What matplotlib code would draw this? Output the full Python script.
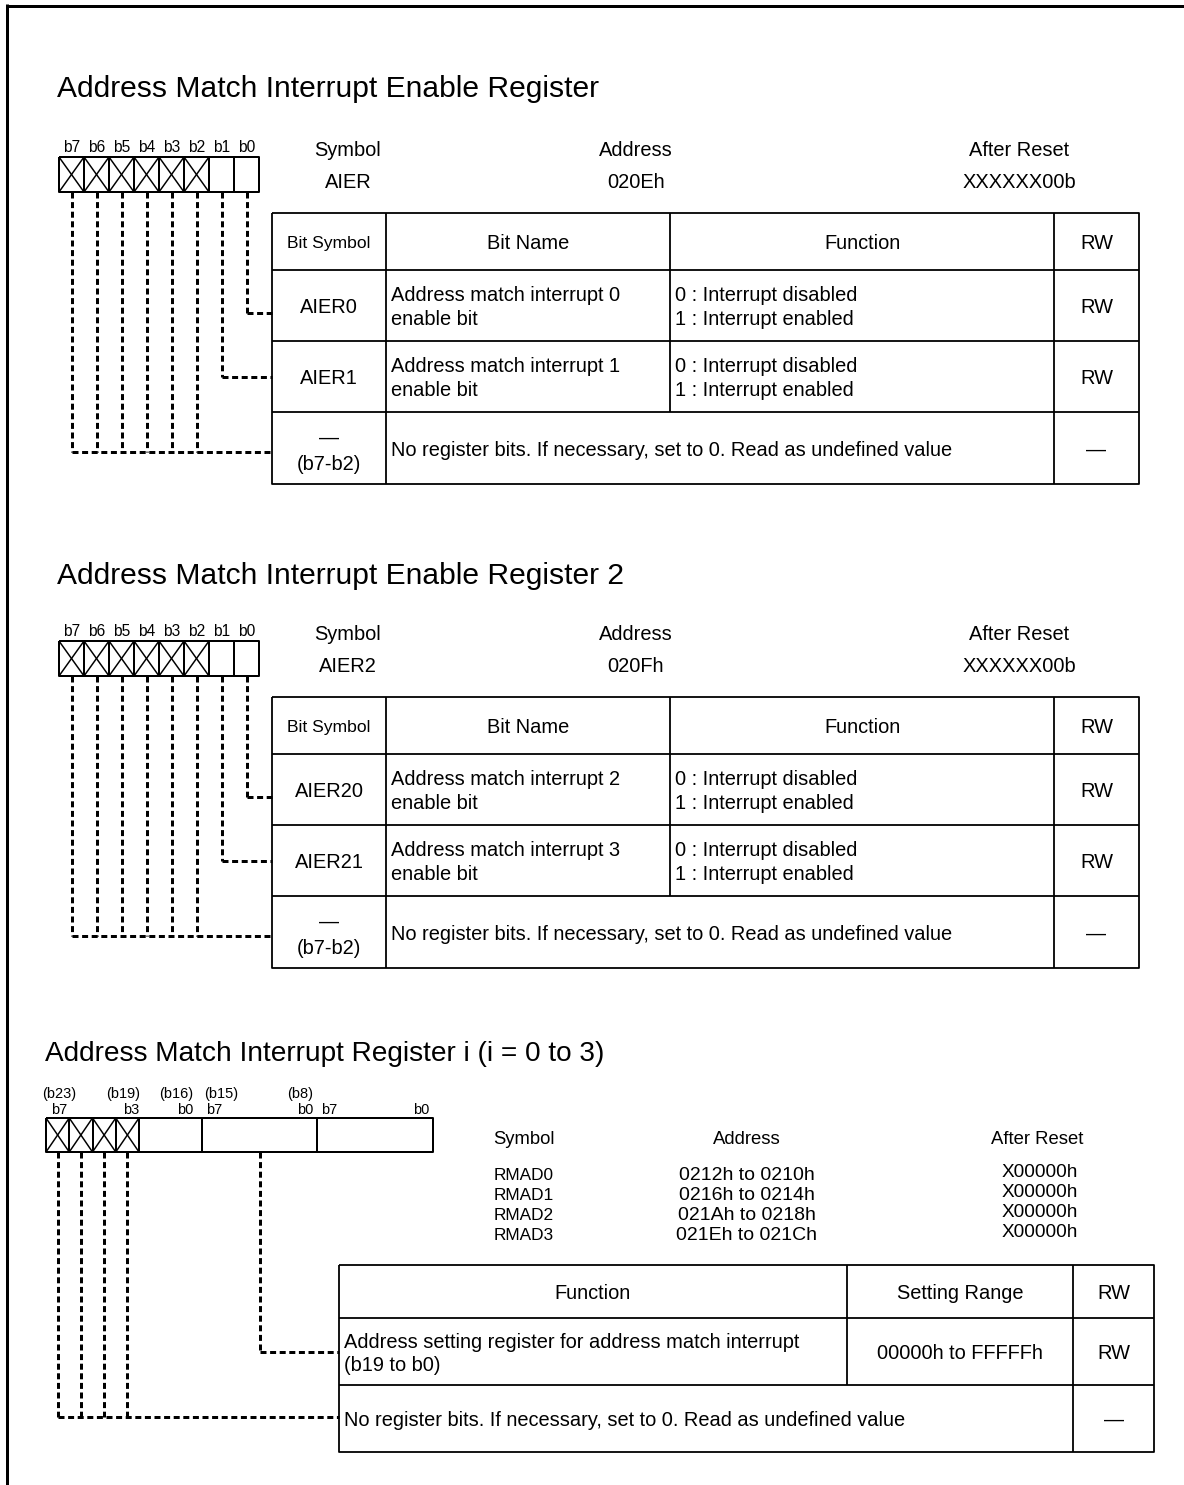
import matplotlib
matplotlib.use('Agg')
import matplotlib.pyplot as plt

FONT = ['Liberation Sans', 'DejaVu Sans']

# ---------------- data ----------------
reg_titles = ["Address Match Interrupt Enable Register",
              "Address Match Interrupt Enable Register 2"]
reg_bits = ["b7", "b6", "b5", "b4", "b3", "b2", "b1", "b0"]
reg_reserved = [True, True, True, True, True, True, False, False]
info_headers = ["Symbol", "Address", "After Reset"]
reg_symbols = ["AIER", "AIER2"]
reg_addresses = ["020Eh", "020Fh"]
reg_resets = ["XXXXXX00b", "XXXXXX00b"]
hdr_labels = ["Bit Symbol", "Bit Name", "Function", "RW"]
bit_symbols = [["AIER0", "AIER1"], ["AIER20", "AIER21"]]
bit_names = [[("Address match interrupt 0", "enable bit"),
              ("Address match interrupt 1", "enable bit")],
             [("Address match interrupt 2", "enable bit"),
              ("Address match interrupt 3", "enable bit")]]
bit_funcs = ("0 : Interrupt disabled", "1 : Interrupt enabled")
bit_rw = "RW"
reserved_symbol = ("\u2014", "(b7-b2)")
reserved_text = "No register bits. If necessary, set to 0. Read as undefined value"
reserved_rw = "\u2014"

rmad_title = "Address Match Interrupt Register i (i = 0 to 3)"
rmad_hi_labels = ["(b23)", "(b19)", "(b16)", "(b15)", "(b8)"]
rmad_lo_labels = ["b7", "b3", "b0", "b7", "b0", "b7", "b0"]
rmad_symbols = ["RMAD0", "RMAD1", "RMAD2", "RMAD3"]
rmad_addresses = ["0212h to 0210h", "0216h to 0214h",
                  "021Ah to 0218h", "021Eh to 021Ch"]
rmad_resets = ["X00000h", "X00000h", "X00000h", "X00000h"]
rmad_headers = ["Function", "Setting Range", "RW"]
rmad_func = ("Address setting register for address match interrupt", "(b19 to b0)")
rmad_range = "00000h to FFFFFh"
rmad_rw = "RW"

# ---------------- drawing helpers ----------------
W, H = 1184, 1485
fig = plt.figure(figsize=(W / 100, H / 100), dpi=100)
ax = fig.add_axes([0, 0, 1, 1])
ax.set_xlim(0, W)
ax.set_ylim(H, 0)
ax.axis('off')

PT = 0.72  # points per pixel


def line(xs, ys, lw=2.0, dashed=False):
    kw = dict(color='black', lw=lw * PT, solid_capstyle='butt')
    if dashed:
        kw['dashes'] = (2.0, 1.2)
        kw['dash_capstyle'] = 'butt'
    ax.plot(xs, ys, **kw)


def txt(x, y, s, size=20, ha='center', family=FONT):
    ax.text(x, y + 0.1 * size, s, fontsize=size * PT, ha=ha, va='center',
            family=family, color='black')


def rect(x0, y0, x1, y1, lw=2.0):
    line([x0, x1, x1, x0, x0], [y0, y0, y1, y1, y0], lw=lw)


def cross(x0, y0, x1, y1):
    line([x0, x1], [y0, y1], lw=1.5)
    line([x0, x1], [y1, y0], lw=1.5)


# page border (top and left)
line([6, W], [5.5, 5.5], lw=3)
line([6.5, 6.5], [4, H], lw=3)

# ---------------- enable registers ----------------
title_ys = [86, 573]
for k in range(2):
    dy = 484 * k
    txt(57, title_ys[k], reg_titles[k], size=30, ha='left')
    # bit box
    bx0, cw, by0, by1 = 59, 25, 157 + dy, 192 + dy
    for i, (b, res) in enumerate(zip(reg_bits, reg_reserved)):
        cx0 = bx0 + i * cw
        txt(cx0 + cw / 2, 146 + dy, b, size=15.5)
        if res:
            cross(cx0, by0, cx0 + cw, by1)
    rect(bx0, by0, bx0 + cw * 8, by1)
    for i in range(1, 8):
        line([bx0 + i * cw] * 2, [by0, by1])

    # symbol / address / reset
    for x, h, v in zip([348, 636, 1019], info_headers,
                       [reg_symbols[k], reg_addresses[k], reg_resets[k]]):
        txt(x, 149 + dy, h)
        txt(x, 180 + dy, v)

    # table
    cols = [272, 386, 670, 1054, 1139]
    rows = [213 + dy, 270 + dy, 341 + dy, 412 + dy, 484 + dy]
    rect(cols[0], rows[0], cols[-1], rows[-1], lw=1.8)
    for r in rows[1:-1]:
        line([cols[0], cols[-1]], [r, r], lw=1.8)
    for c in cols[1:-1]:
        line([c, c], [rows[0], rows[-2]], lw=1.8)
    line([cols[1]] * 2, [rows[-2], rows[-1]], lw=1.8)
    line([cols[3]] * 2, [rows[-2], rows[-1]], lw=1.8)

    hy = (rows[0] + rows[1]) / 2
    txt((cols[0] + cols[1]) / 2, hy, hdr_labels[0], size=17.5)
    for j in range(1, 4):
        txt((cols[j] + cols[j + 1]) / 2, hy, hdr_labels[j])

    for r in range(2):
        cy = (rows[r + 1] + rows[r + 2]) / 2
        txt((cols[0] + cols[1]) / 2, cy, bit_symbols[k][r])
        txt(391, cy - 12, bit_names[k][r][0], ha='left')
        txt(391, cy + 12, bit_names[k][r][1], ha='left')
        txt(675, cy - 12, bit_funcs[0], ha='left')
        txt(675, cy + 12, bit_funcs[1], ha='left')
        txt((cols[3] + cols[4]) / 2, cy, bit_rw)
    cy = (rows[3] + rows[4]) / 2
    txt((cols[0] + cols[1]) / 2, cy - 12, reserved_symbol[0])
    txt((cols[0] + cols[1]) / 2, cy + 14, reserved_symbol[1])
    txt(391, cy, reserved_text, ha='left')
    txt((cols[3] + cols[4]) / 2, cy, reserved_rw)

    # dashed connectors
    centers = [bx0 + cw / 2 + i * cw for i in range(8)]
    turn = {7: 313 + dy, 6: 377 + dy}
    low = 452 + dy
    for i, c in enumerate(centers):
        yend = turn.get(i, low)
        line([c, c], [by1, yend], lw=3, dashed=True)
    line([centers[7], cols[0]], [313 + dy] * 2, lw=3, dashed=True)
    line([centers[6], cols[0]], [377 + dy] * 2, lw=3, dashed=True)
    line([centers[0], cols[0]], [low] * 2, lw=3, dashed=True)

# ---------------- address match interrupt register ----------------
txt(45, 1051, rmad_title, size=28, ha='left')
hi_x = [59, 123.5, 176, 221.5, 300.5]
for x, s in zip(hi_x, rmad_hi_labels):
    txt(x, 1093, s, size=14.5)
lo_pos = [(59, 'center'), (139, 'right'), (193, 'right'), (206, 'left'),
          (313, 'right'), (321, 'left'), (429, 'right')]
for (x, ha), s in zip(lo_pos, rmad_lo_labels):
    txt(x, 1109, s, size=14.5, ha=ha)

rx0, rx1, ry0, ry1 = 46, 433, 1118, 1152
ccw = (139 - 46) / 4
for i in range(4):
    cross(rx0 + i * ccw, ry0, rx0 + (i + 1) * ccw, ry1)
    line([rx0 + (i + 1) * ccw] * 2, [ry0, ry1])
rect(rx0, ry0, rx1, ry1)
line([202, 202], [ry0, ry1])
line([317, 317], [ry0, ry1])

for x, h in zip([524, 747, 1037], info_headers):
    txt(x, 1138, h, size=18.5)
sym_ys = [1174, 1194, 1214, 1234]
for y, s, a, r in zip(sym_ys, rmad_symbols, rmad_addresses, rmad_resets):
    txt(494, y, s, size=17.2, ha='left')
    txt(747, y, a, size=19.5)
    txt(1040, y - 3, r, size=19)

cols3 = [339, 847, 1073, 1154]
rows3 = [1265, 1318, 1385, 1452]
rect(cols3[0], rows3[0], cols3[-1], rows3[-1], lw=1.8)
line([cols3[0], cols3[-1]], [rows3[1]] * 2, lw=1.8)
line([cols3[0], cols3[-1]], [rows3[2]] * 2, lw=1.8)
line([cols3[1]] * 2, [rows3[0], rows3[2]], lw=1.8)
line([cols3[2]] * 2, [rows3[0], rows3[3]], lw=1.8)
hy = (rows3[0] + rows3[1]) / 2
for j in range(3):
    txt((cols3[j] + cols3[j + 1]) / 2, hy, rmad_headers[j])
cy = (rows3[1] + rows3[2]) / 2
txt(344, cy - 11, rmad_func[0], ha='left')
txt(344, cy + 12, rmad_func[1], ha='left')
txt((cols3[1] + cols3[2]) / 2, cy, rmad_range)
txt((cols3[2] + cols3[3]) / 2, cy, rmad_rw)
cy2 = (rows3[2] + rows3[3]) / 2
txt(344, cy2, reserved_text, ha='left')
txt((cols3[2] + cols3[3]) / 2, cy2, reserved_rw)

# dashed connectors
xc = [rx0 + ccw / 2 + i * ccw for i in range(4)]
for c in xc:
    line([c, c], [ry1, 1417], lw=3, dashed=True)
line([xc[0], cols3[0]], [1417, 1417], lw=3, dashed=True)
mid = (202 + 317) / 2
line([mid, mid], [ry1, 1352], lw=3, dashed=True)
line([mid, cols3[0]], [1352, 1352], lw=3, dashed=True)

fig.savefig('out.png', dpi=100, facecolor='white')
